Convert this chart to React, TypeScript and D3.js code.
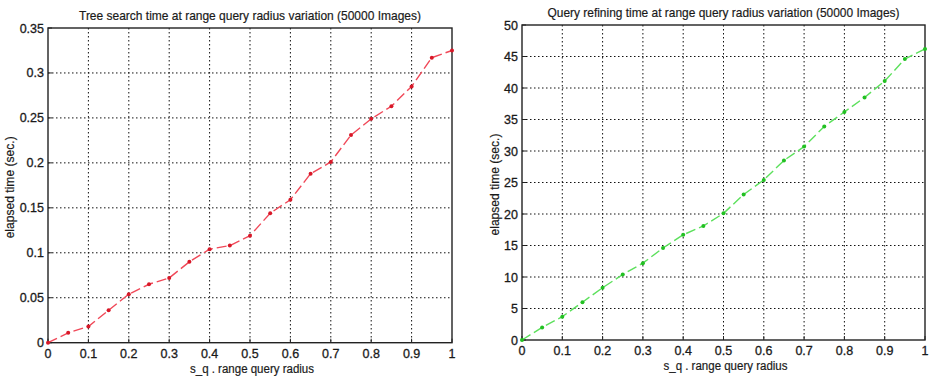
import { useEffect, useRef } from 'react';
import * as d3 from 'd3';

const radius = [0, 0.05, 0.1, 0.15, 0.2, 0.25, 0.3, 0.35, 0.4, 0.45, 0.5, 0.55, 0.6, 0.65, 0.7, 0.75, 0.8, 0.85, 0.9, 0.95, 1];
const treeSearch = [0, 0.011, 0.018, 0.036, 0.054, 0.065, 0.072, 0.09, 0.104, 0.108, 0.119, 0.144, 0.159, 0.188, 0.201, 0.231, 0.249, 0.263, 0.285, 0.317, 0.325];
const queryRefine = [0, 2.0, 3.7, 6.0, 8.3, 10.4, 12.2, 14.6, 16.7, 18.1, 20.1, 23.1, 25.4, 28.5, 30.7, 33.9, 36.2, 38.5, 41.1, 44.6, 46.2];
const xTicks = [0, 0.1, 0.2, 0.3, 0.4, 0.5, 0.6, 0.7, 0.8, 0.9, 1];
const yTicksLeft = [0, 0.05, 0.1, 0.15, 0.2, 0.25, 0.3, 0.35];
const yTicksRight = [0, 5, 10, 15, 20, 25, 30, 35, 40, 45, 50];

const FONT = "'Liberation Sans', Arial, sans-serif";

interface PanelProps {
	title: string;
	titleWidth: number;
	values: number[];
	yTicks: number[];
	box: [number, number, number, number]; // left, top, right, bottom
	lineColor: string;
	dotColor: string;
	yLabelX: number;
}

const Panel: React.FC<PanelProps> = ({ title, titleWidth, values, yTicks, box, lineColor, dotColor, yLabelX }) => {
	const ref = useRef<SVGGElement>(null);

	useEffect(() => {
		if (!ref.current) return;
		const g = d3.select(ref.current);
		g.selectAll('*').remove();

		const [x0, y0, x1, y1] = box;
		const x = d3.scaleLinear().domain([0, 1]).range([x0, x1]);
		const y = d3.scaleLinear().domain([0, yTicks[yTicks.length - 1]]).range([y1, y0]);
		const fmt = (v: number) => String(+v.toFixed(2));

		// dotted grid
		g.append('g')
			.selectAll('line')
			.data(xTicks.slice(1, -1))
			.join('line')
			.attr('x1', (d) => x(d)).attr('x2', (d) => x(d))
			.attr('y1', y0).attr('y2', y1)
			.attr('stroke', '#111').attr('stroke-width', 1)
			.attr('stroke-dasharray', '1.5,2.5');
		g.append('g')
			.selectAll('line')
			.data(yTicks.slice(1, -1))
			.join('line')
			.attr('y1', (d) => y(d)).attr('y2', (d) => y(d))
			.attr('x1', x0).attr('x2', x1)
			.attr('stroke', '#111').attr('stroke-width', 1)
			.attr('stroke-dasharray', '1.5,2.5');

		g.append('rect')
			.attr('x', x0).attr('y', y0)
			.attr('width', x1 - x0).attr('height', y1 - y0)
			.attr('fill', 'none').attr('stroke', '#222').attr('stroke-width', 1.4);

		// ticks point inward
		g.append('g').selectAll('line').data(xTicks).join('line')
			.attr('x1', (d) => x(d)).attr('x2', (d) => x(d))
			.attr('y1', y1).attr('y2', y1 - 4)
			.attr('stroke', '#222');
		g.append('g').selectAll('line').data(yTicks).join('line')
			.attr('y1', (d) => y(d)).attr('y2', (d) => y(d))
			.attr('x1', x0).attr('x2', x0 + 4)
			.attr('stroke', '#222');

		const label = (sel: d3.Selection<any, any, any, any>, size: number) =>
			sel.style('font-family', FONT).style('font-size', `${size}px`)
				.style('fill', '#1a1a1a').style('stroke', '#1a1a1a').style('stroke-width', 0.3);

		g.append('g').selectAll('text').data(xTicks).join('text')
			.attr('x', (d) => x(d)).attr('y', y1 + 15)
			.attr('text-anchor', 'middle')
			.call(label, 12.5)
			.text(fmt);
		g.append('g').selectAll('text').data(yTicks).join('text')
			.attr('x', x0 - 4).attr('y', (d) => y(d) + 4.5)
			.attr('text-anchor', 'end')
			.call(label, 12.5)
			.text(fmt);

		const line = d3.line<number>()
			.x((_, i) => x(radius[i]))
			.y((d) => y(d));
		g.append('path')
			.datum(values)
			.attr('d', line)
			.attr('fill', 'none')
			.attr('stroke', lineColor).attr('stroke-width', 1.4)
			.attr('stroke-dasharray', '10,4');
		g.append('g').selectAll('circle').data(values).join('circle')
			.attr('cx', (_, i) => x(radius[i])).attr('cy', (d) => y(d))
			.attr('r', 2)
			.attr('fill', dotColor);

		g.append('text')
			.attr('x', (x0 + x1) / 2).attr('y', y0 - 8)
			.attr('text-anchor', 'middle')
			.attr('textLength', titleWidth).attr('lengthAdjust', 'spacingAndGlyphs')
			.call(label, 13)
			.style('stroke-width', 0.2)
			.text(title);
		g.append('text')
			.attr('x', (x0 + x1) / 2 + 2).attr('y', y1 + 30)
			.attr('text-anchor', 'middle')
			.attr('textLength', 124).attr('lengthAdjust', 'spacingAndGlyphs')
			.call(label, 12.5)
			.style('stroke-width', 0.2)
			.text('s_q . range query radius');
		g.append('text')
			.attr('transform', `translate(${yLabelX}, ${(y0 + y1) / 2 + 2}) rotate(-90)`)
			.attr('text-anchor', 'middle')
			.attr('textLength', 102).attr('lengthAdjust', 'spacingAndGlyphs')
			.call(label, 12)
			.style('stroke-width', 0.2)
			.text('elapsed time (sec.)');
	}, [title, titleWidth, values, yTicks, box, lineColor, dotColor, yLabelX]);

	return <g ref={ref}></g>;
};

export default function App() {
	return (
		<div style={{ position: 'absolute', left: 0, top: 0 }}>
			<svg width={930} height={379} style={{ display: 'block', background: '#fff' }}>
				<Panel
					title='Tree search time at range query radius variation (50000 Images)'
					titleWidth={342}
					values={treeSearch}
					yTicks={yTicksLeft}
					box={[48, 28, 452, 342.7]}
					lineColor='#f04858'
					dotColor='#d81828'
					yLabelX={14}
				/>
				<Panel
					title='Query refining time at range query radius variation (50000 Images)'
					titleWidth={352}
					values={queryRefine}
					yTicks={yTicksRight}
					box={[522, 25, 925, 340]}
					lineColor='#5ce05c'
					dotColor='#22c022'
					yLabelX={499}
				/>
			</svg>
		</div>
	);
}
